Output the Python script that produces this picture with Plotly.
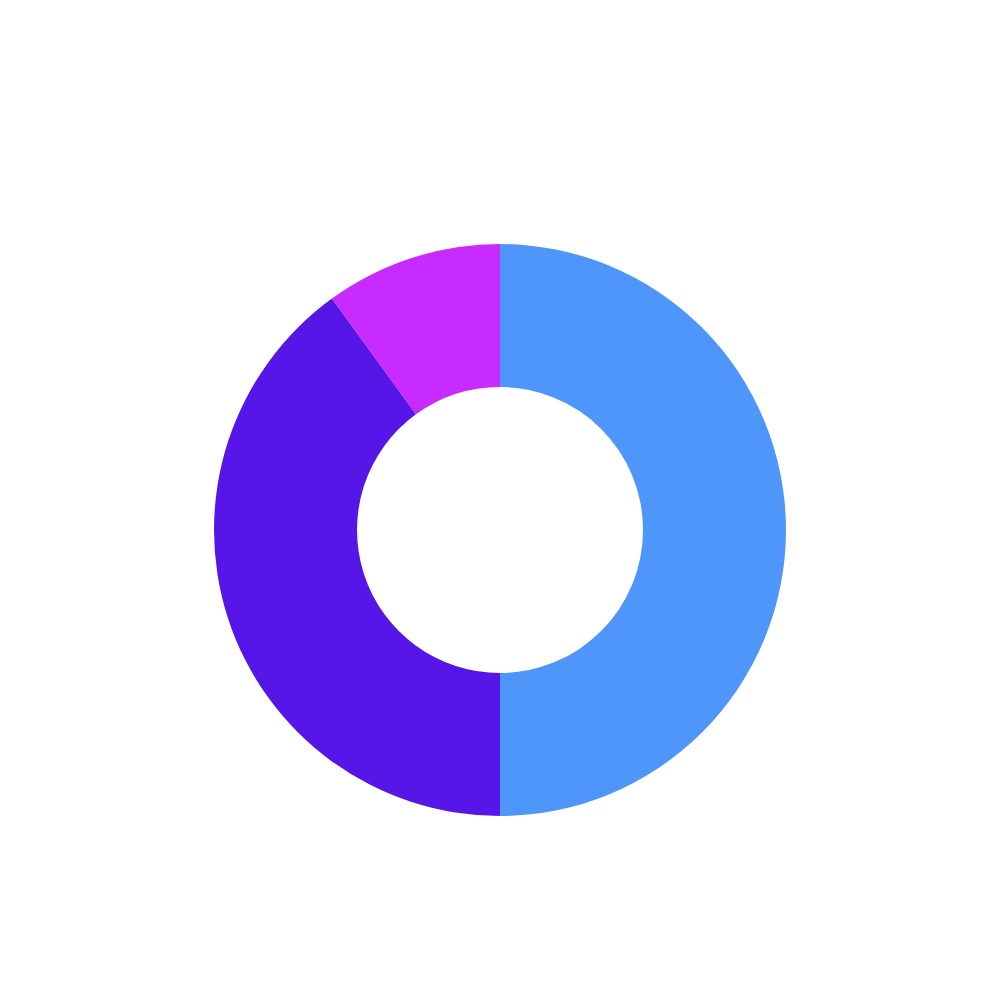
import plotly.graph_objects as go

labels = ["A", "B", "C"]
values = [50, 40, 10]
colors = ["#4F96FB", "#5516E7", "#C72BFF"]

fig = go.Figure(go.Pie(
    labels=labels,
    values=values,
    hole=0.5,
    sort=False,
    direction="clockwise",
    rotation=0,
    marker=dict(colors=colors, line=dict(width=0)),
    textinfo="none",
    hoverinfo="label+value+percent",
))
fig.update_layout(
    width=1000, height=1000,
    showlegend=False,
    paper_bgcolor="white", plot_bgcolor="white",
    margin=dict(l=206, r=222, t=236, b=192),
)
fig.write_html("out.html")
